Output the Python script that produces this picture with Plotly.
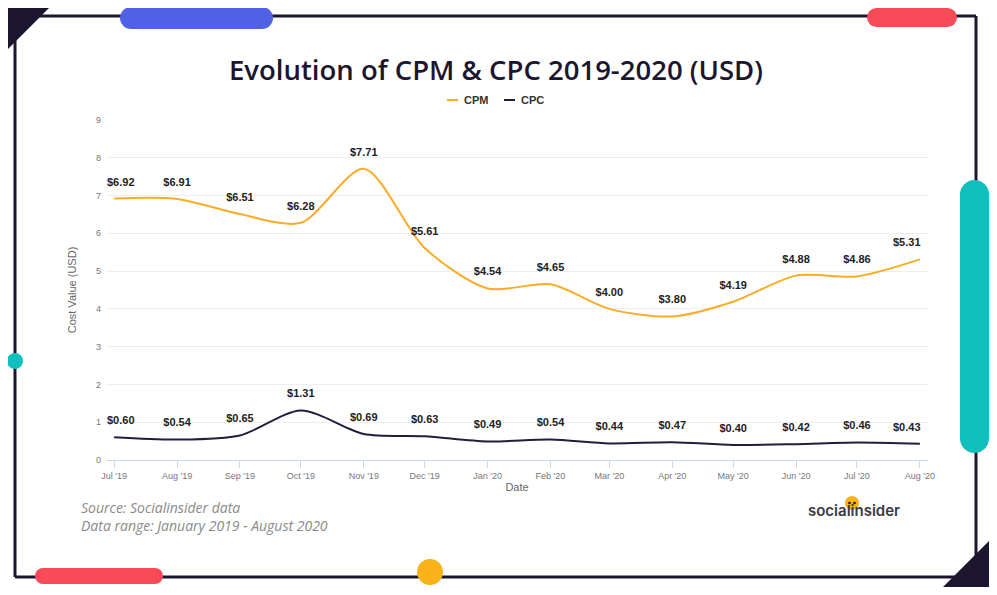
import plotly.graph_objects as go

# ---- data ----
months = ["2019-07-01", "2019-08-01", "2019-09-01", "2019-10-01", "2019-11-01", "2019-12-01",
          "2020-01-01", "2020-02-01", "2020-03-01", "2020-04-01", "2020-05-01", "2020-06-01",
          "2020-07-01", "2020-08-01"]
tick_labels = ["Jul '19", "Aug '19", "Sep '19", "Oct '19", "Nov '19", "Dec '19", "Jan '20",
               "Feb '20", "Mar '20", "Apr '20", "May '20", "Jun '20", "Jul '20", "Aug '20"]
cpm = [6.92, 6.91, 6.51, 6.28, 7.71, 5.61, 4.54, 4.65, 4.00, 3.80, 4.19, 4.88, 4.86, 5.31]
cpc = [0.60, 0.54, 0.65, 1.31, 0.69, 0.63, 0.49, 0.54, 0.44, 0.47, 0.40, 0.42, 0.46, 0.43]

# page body has an 8px margin: shrink the figure so it fits the 997x595 window
OFF = 8
W, H = 997 - OFF, 595 - OFF
L, R, T, B = 106, 928, 120, 460   # plot area in window pixels

def px(x):
    return (x - L) / (R - L)

def py(y):
    return (B - y) / (B - T)

ORANGE = "#FBAC27"
NAVY = "#221C3F"
DARK = "#1C1530"

label_font = dict(family="Liberation Sans, Arial", size=11, color="#222", weight="bold")

def fmt(v):
    return f"${v:.2f}"

def inner_labels(vals):
    # edge labels are drawn as annotations so they can be nudged inside the plot
    return [""] + [fmt(v) for v in vals[1:-1]] + [""]

fig = go.Figure()
fig.add_trace(go.Scatter(
    x=months, y=cpm, name="CPM", mode="lines+markers+text",
    line=dict(color=ORANGE, width=2, shape="spline", smoothing=0.8),
    marker=dict(size=15, color="rgba(0,0,0,0)"),
    text=inner_labels(cpm), textposition="top center",
    textfont=label_font, cliponaxis=False, hoverinfo="skip", showlegend=False,
))
fig.add_trace(go.Scatter(
    x=months, y=cpc, name="CPC", mode="lines+markers+text",
    line=dict(color=NAVY, width=2, shape="spline", smoothing=0.8),
    marker=dict(size=15, color="rgba(0,0,0,0)"),
    text=inner_labels(cpc), textposition="top center",
    textfont=label_font, cliponaxis=False, hoverinfo="skip", showlegend=False,
))

shapes = []
def line(x0, y0, x1, y1, color=DARK, w=3):
    shapes.append(dict(type="line", xref="paper", yref="paper",
                       x0=px(x0), y0=py(y0), x1=px(x1), y1=py(y1),
                       line=dict(color=color, width=w), layer="above"))

def rect(x0, y0, x1, y1, color):
    shapes.append(dict(type="rect", xref="paper", yref="paper",
                       x0=px(x0), y0=py(y0), x1=px(x1), y1=py(y1),
                       fillcolor=color, line=dict(width=0), layer="above"))

def circle(cx, cy, r, color):
    shapes.append(dict(type="circle", xref="paper", yref="paper",
                       x0=px(cx - r), y0=py(cy + r), x1=px(cx + r), y1=py(cy - r),
                       fillcolor=color, line=dict(width=0), layer="above"))

def hpill(x0, x1, y0, y1, color):
    r = (y1 - y0) / 2
    rect(x0 + r, y0, x1 - r, y1, color)
    circle(x0 + r, (y0 + y1) / 2, r, color)
    circle(x1 - r, (y0 + y1) / 2, r, color)

def vpill(x0, x1, y0, y1, color):
    r = (x1 - x0) / 2
    rect(x0, y0 + r, x1, y1 - r, color)
    circle((x0 + x1) / 2, y0 + r, r, color)
    circle((x0 + x1) / 2, y1 - r, r, color)

def tri(pts, color):
    path = "M " + " L ".join(f"{px(x)},{py(y)}" for x, y in pts) + " Z"
    shapes.append(dict(type="path", xref="paper", yref="paper", path=path,
                       fillcolor=color, line=dict(width=0), layer="above"))

# frame
line(15, 16, 976, 16)
line(15, 16, 15, 577)
line(976, 16, 976, 577)
line(15, 577, 976, 577)
tri([(5, 7), (50, 7), (5, 52)], DARK)
tri([(943, 587), (989, 587), (989, 541)], DARK)
hpill(120, 273, 7, 29, "#5161E6")
hpill(867, 957, 8, 27, "#F94A58")
hpill(35, 163, 568, 584, "#F94A58")
vpill(960, 989, 180, 453, "#10C0BF")
circle(15, 361, 8, "#10C0BF")
circle(430, 572, 13, "#F9B217")
# logo dot
circle(852, 503, 7, "#F9B217")
circle(849.5, 503, 1.3, DARK)
circle(854.5, 503, 1.3, DARK)
# legend symbols
line(447, 100, 458, 100, ORANGE, 2)
line(504, 100, 515, 100, NAVY, 2)

legend_font = dict(family="Liberation Sans, Arial", size=11, color="#333", weight="bold")

annotations = [
    dict(text="Evolution of CPM &amp; CPC 2019-2020 (USD)", xref="paper", yref="paper",
         x=px(496), y=py(69), xanchor="center", yanchor="middle", showarrow=False,
         font=dict(family="Open Sans", size=27.5, color=DARK, weight=600)),
    dict(text="CPM", xref="paper", yref="paper", x=px(462), y=py(100),
         xanchor="left", yanchor="middle", showarrow=False, font=legend_font),
    dict(text="CPC", xref="paper", yref="paper", x=px(519), y=py(100),
         xanchor="left", yanchor="middle", showarrow=False, font=legend_font),
    dict(text="<i>Source: Socialinsider data</i><br><i>Data range: January 2019 - August 2020</i>",
         xref="paper", yref="paper", align="left",
         x=px(79), y=py(516.5), xanchor="left", yanchor="middle", showarrow=False,
         font=dict(family="Open Sans", size=14, color="#8a8a8a")),
    dict(text="socialinsider", xref="paper", yref="paper",
         x=px(854), y=py(510), xanchor="center", yanchor="middle", showarrow=False,
         font=dict(family="Inter, Open Sans", size=15, color="#3a3848", weight=600)),
]

# edge value labels, nudged inside the plot area
for series in (cpm, cpc):
    annotations.append(dict(text=fmt(series[0]), x=months[0], y=series[0], xref="x", yref="y",
                            xanchor="left", yanchor="middle", xshift=-9, yshift=17,
                            showarrow=False, font=label_font))
    annotations.append(dict(text=fmt(series[-1]), x=months[-1], y=series[-1], xref="x", yref="y",
                            xanchor="right", yanchor="middle", xshift=3, yshift=17,
                            showarrow=False, font=label_font))

fig.update_layout(
    width=W, height=H,
    margin=dict(l=L - OFF, r=W - (R - OFF), t=T - OFF, b=H - (B - OFF), autoexpand=False),
    paper_bgcolor="white", plot_bgcolor="white",
    showlegend=False,
    xaxis=dict(type="date", range=["2019-06-27", "2020-08-05"],
               tickvals=months, ticktext=tick_labels,
               tickfont=dict(family="Liberation Sans, Arial", size=9, color="#777"),
               showgrid=False, showline=True, linecolor="#ccd6eb", linewidth=1,
               ticks="outside", ticklen=7, tickcolor="#ccd6eb",
               title=dict(text="Date", font=dict(family="Liberation Sans, Arial", size=11, color="#666"),
                          standoff=3),
               zeroline=False, fixedrange=True),
    yaxis=dict(range=[0, 9], dtick=1, tick0=0,
               tickfont=dict(family="Liberation Sans, Arial", size=9, color="#777"),
               showgrid=True, gridcolor="#eeeeee", gridwidth=1,
               zeroline=False, showline=False, ticks="", ticklabelstandoff=4,
               title=dict(text="Cost Value (USD)", font=dict(family="Liberation Sans, Arial", size=11, color="#666"),
                          standoff=17),
               fixedrange=True),
    shapes=shapes,
    annotations=annotations,
)

fig.write_html("out.html")
